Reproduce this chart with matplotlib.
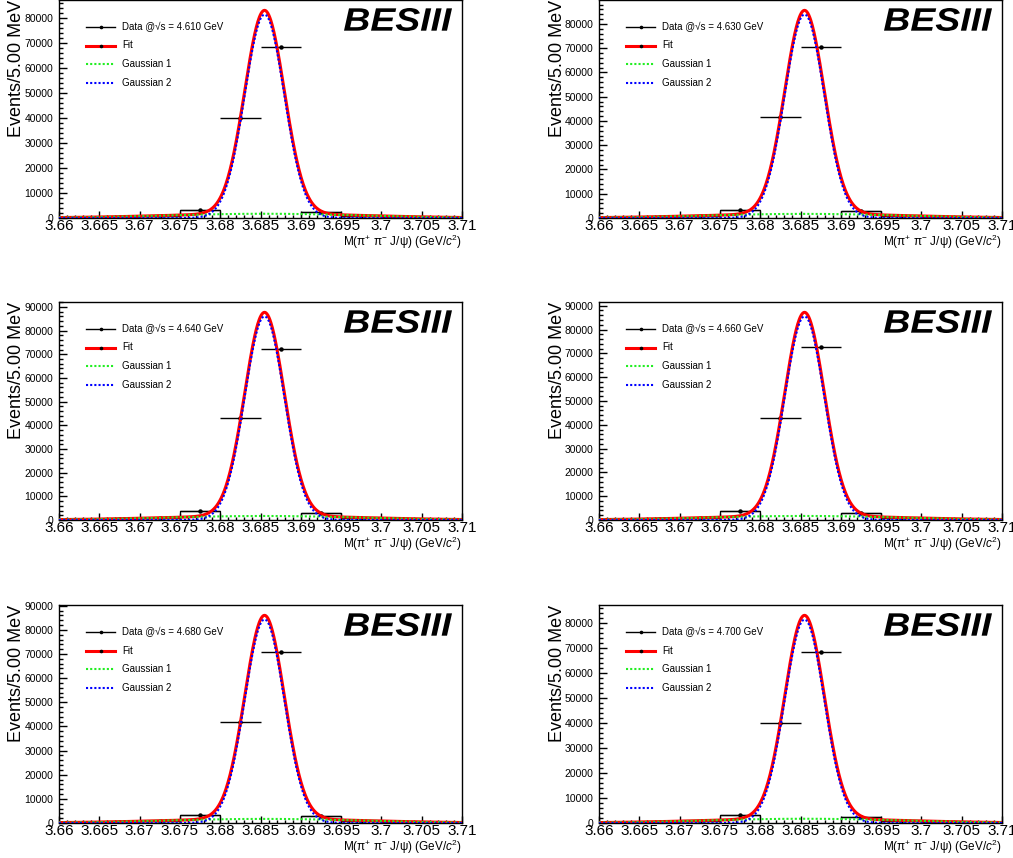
import numpy as np
import matplotlib
matplotlib.use("Agg")
import matplotlib.pyplot as plt
from matplotlib.ticker import MultipleLocator, FuncFormatter
from matplotlib.textpath import TextPath
from matplotlib.patches import PathPatch
from matplotlib.font_manager import FontProperties
from matplotlib.transforms import Affine2D

plt.rcParams["font.family"] = ["Liberation Sans", "DejaVu Sans"]
plt.rcParams["mathtext.fontset"] = "custom"
plt.rcParams["mathtext.rm"] = "Liberation Sans"
plt.rcParams["mathtext.it"] = "Liberation Sans:italic"
plt.rcParams["mathtext.bf"] = "Liberation Sans:bold"

# ---- data -------------------------------------------------------------
energies = ["4.610", "4.630", "4.640", "4.660", "4.680", "4.700"]

bin_edges = [3.660, 3.665, 3.670, 3.675, 3.680, 3.685,
             3.690, 3.695, 3.700, 3.705, 3.710]

counts = [
    [150, 350, 950, 3300, 40200, 68300, 2600, 900, 400, 150],
    [150, 350, 1000, 3400, 41600, 70400, 2700, 950, 400, 150],
    [150, 350, 1000, 3600, 43000, 72400, 2800, 1000, 400, 150],
    [150, 350, 1000, 3600, 42700, 72500, 2800, 1000, 400, 150],
    [150, 350, 1000, 3500, 41800, 71000, 2700, 950, 400, 150],
    [150, 350, 950, 3300, 40200, 68300, 2600, 900, 400, 150],
]

# double-Gaussian fit results per energy point
g1_amp = [1700, 1700, 1700, 1700, 1700, 1700]          # wide Gaussian
g1_sigma = [0.0120, 0.0120, 0.0120, 0.0120, 0.0120, 0.0120]
g2_amp = [81400, 83900, 86000, 85500, 84300, 81400]    # narrow Gaussian
g2_sigma = [0.00245, 0.00245, 0.00245, 0.00245, 0.00245, 0.00245]
fit_mean = [3.6855, 3.6855, 3.6855, 3.6855, 3.6855, 3.6855]

# ---- figure layout ------------------------------------------------------
W, H = 1013, 858
fig = plt.figure(figsize=(W / 100, H / 100), dpi=100)

col_left = [59, 599]
row_top = [0, 302, 605]
ax_w, ax_h = 403, 218


def gauss(x, a, m, s):
    return a * np.exp(-0.5 * ((x - m) / s) ** 2)


xfmt = FuncFormatter(lambda v, p: f"{v:.3f}".rstrip("0").rstrip("."))
yfmt = FuncFormatter(lambda v, p: f"{int(round(v))}")

logo_prop = FontProperties(family="Liberation Sans", weight="bold", style="italic")
logo_path = TextPath((0, 0), "BESIII", size=1, prop=logo_prop)
logo_ext = logo_path.get_extents()

legend_rows = [27, 45.5, 64, 83]

for i, energy in enumerate(energies):
    r, c = divmod(i, 2)
    left = col_left[c]
    top = row_top[r]
    ax = fig.add_axes([left / W, (H - top - ax_h) / H, ax_w / W, ax_h / H])

    edges = np.array(bin_edges)
    centers = 0.5 * (edges[:-1] + edges[1:])
    half = 0.5 * (edges[1:] - edges[:-1])
    y = np.array(counts[i], dtype=float)

    xs = np.linspace(edges[0], edges[-1], 800)
    wide = gauss(xs, g1_amp[i], fit_mean[i], g1_sigma[i])
    narrow = gauss(xs, g2_amp[i], fit_mean[i], g2_sigma[i])
    total = wide + narrow

    # data points with bin-width horizontal bars
    ax.errorbar(centers, y, xerr=half, yerr=np.sqrt(y), fmt="o", ms=2.2,
                color="black", ecolor="black", elinewidth=1.0, capsize=0,
                zorder=2)
    # outline of the sideband bins
    for xc, hw, v in zip(centers, half, y):
        if v < 5000:
            ax.plot([xc - hw, xc - hw, xc + hw, xc + hw], [0, v, v, 0],
                    color="black", lw=0.9, zorder=2)

    ax.plot(xs, total, color="#ff0000", lw=2.2, zorder=3)
    ax.plot(xs, wide, color="#22ee22", lw=1.5, ls=(0, (1, 1)), zorder=4)
    ax.plot(xs, narrow, color="#0000ff", lw=1.5, ls=(0, (1, 1)), zorder=5)

    ax.set_xlim(edges[0], edges[-1])
    ax.set_ylim(0, 1.05 * total.max())

    ax.xaxis.set_major_locator(MultipleLocator(0.005))
    ax.xaxis.set_minor_locator(MultipleLocator(0.001))
    ax.yaxis.set_major_locator(MultipleLocator(10000))
    ax.yaxis.set_minor_locator(MultipleLocator(2000))
    ax.xaxis.set_major_formatter(xfmt)
    ax.yaxis.set_major_formatter(yfmt)

    ax.tick_params(axis="x", which="major", direction="in", length=5,
                   width=1, labelsize=11, pad=1.0)
    ax.tick_params(axis="x", which="minor", direction="in", length=2.5, width=1)
    ax.tick_params(axis="y", which="major", direction="in", length=6,
                   width=1, labelsize=7.5, pad=4)
    ax.tick_params(axis="y", which="minor", direction="in", length=3, width=1)
    ax.tick_params(top=False, right=False, which="both")
    for sp in ax.spines.values():
        sp.set_linewidth(1.0)

    ax.text((17 - 59) / ax_w, 1.0, "Events/5.00 MeV", rotation=90,
            ha="center", va="top", fontsize=13, transform=ax.transAxes)
    ax.text(1.0, -0.068, r"M($\mathrm{\pi}^{+}$ $\mathrm{\pi}^{-}$ J/$\mathrm{\psi}$) (GeV/$c^{2}$)",
            ha="right", va="top", fontsize=8.5, transform=ax.transAxes)

    # legend drawn inside the frame
    lx0, lx1, tx = 27 / ax_w, 56 / ax_w, 63 / ax_w
    ly = [1 - v / ax_h for v in legend_rows]
    entries = [
        (f"Data @\u221as = {energy} GeV", dict(color="black", lw=1.0, ls="-")),
        ("Fit", dict(color="#ff0000", lw=2.2, ls="-")),
        ("Gaussian 1", dict(color="#22ee22", lw=1.5, ls=(0, (1, 1)))),
        ("Gaussian 2", dict(color="#0000ff", lw=1.5, ls=(0, (1, 1)))),
    ]
    for k, (label, style) in enumerate(entries):
        ax.plot([lx0, lx1], [ly[k], ly[k]], transform=ax.transAxes,
                clip_on=False, **style)
        if k < 2:
            ax.plot([(lx0 + lx1) / 2], [ly[k]], "o", ms=1.6, color="black",
                    transform=ax.transAxes)
        ax.text(tx, ly[k], label, fontsize=7, va="center", ha="left",
                transform=ax.transAxes)

    # experiment logo
    lx_px = left + 285
    ly_px = H - top - 31
    sx = 108 / logo_ext.width
    sy = 23 / logo_ext.height
    tr = (Affine2D().translate(-logo_ext.x0, -logo_ext.y0)
          .scale(sx / W, sy / H).translate(lx_px / W, ly_px / H)
          + fig.transFigure)
    fig.add_artist(PathPatch(logo_path, transform=tr, facecolor="black",
                             edgecolor="none"))

fig.savefig("out.png", dpi=100)
